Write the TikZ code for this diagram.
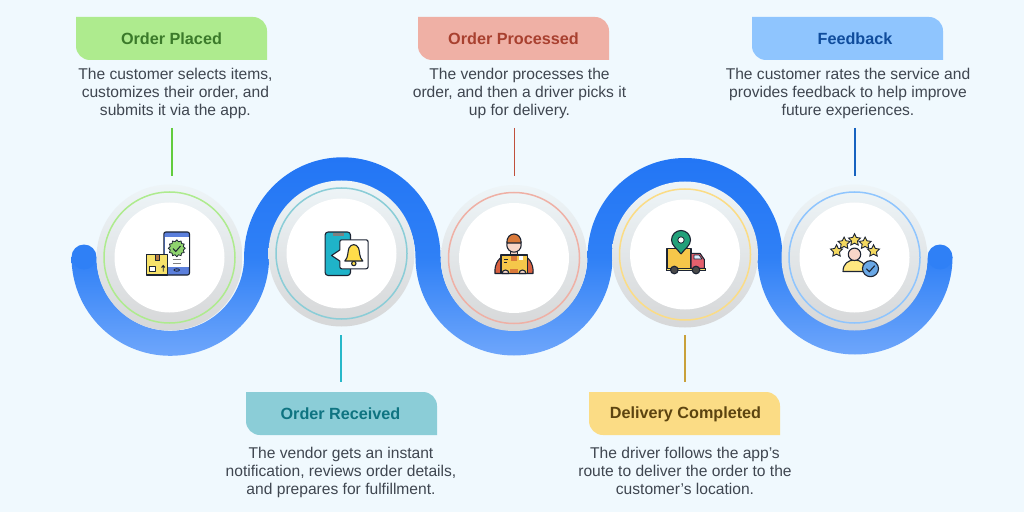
\documentclass[tikz,border=0pt]{standalone}
\usepackage{fontspec}
\setmainfont{Liberation Sans}
\usetikzlibrary{shapes.geometric}
\definecolor{pagebg}{HTML}{F0F9FE}
\definecolor{ribbontop}{HTML}{2376F5}
\definecolor{ribbonmid}{HTML}{2F80F6}
\definecolor{ribbonlow}{HTML}{6EA6FB}
\definecolor{disctop}{HTML}{EEF5F8}
\definecolor{discbot}{HTML}{D6D7D8}
\definecolor{bodytext}{HTML}{3F4650}
\definecolor{ink}{HTML}{1C2433}
\definecolor{placedfill}{HTML}{AEEB8E}
\definecolor{placedtext}{HTML}{3B7A2A}
\definecolor{greenstem}{HTML}{62CC3E}
\definecolor{receivedfill}{HTML}{8BCDD7}
\definecolor{receivedtext}{HTML}{0F7481}
\definecolor{receivedstem}{HTML}{27B8C9}
\definecolor{processedfill}{HTML}{EFB0A5}
\definecolor{processedtext}{HTML}{A8402F}
\definecolor{processedstem}{HTML}{C0503C}
\definecolor{completedfill}{HTML}{FBDC85}
\definecolor{completedtext}{HTML}{5C4410}
\definecolor{completedstem}{HTML}{C9A13A}
\definecolor{feedbackfill}{HTML}{8FC5FE}
\definecolor{feedbacktext}{HTML}{0F4C9C}
\definecolor{feedbackstem}{HTML}{1763C0}
\definecolor{phoneblue}{HTML}{5B7FDC}
\definecolor{phoneteal}{HTML}{1FB3C9}
\definecolor{badgegreen}{HTML}{8FD46E}
\definecolor{boxyellow}{HTML}{F6E26B}
\definecolor{boxtape}{HTML}{B5793F}
\definecolor{bellyellow}{HTML}{FFDD4A}
\definecolor{cargoyellow}{HTML}{F5C74A}
\definecolor{courierred}{HTML}{D9603F}
\definecolor{capbrown}{HTML}{D9793A}
\definecolor{skinpink}{HTML}{F8D6C8}
\definecolor{cabred}{HTML}{E4606D}
\definecolor{pingreen}{HTML}{22A07A}
\definecolor{wheelgray}{HTML}{4A4A4A}
\definecolor{stargold}{HTML}{F3D85F}
\definecolor{checkblue}{HTML}{6AA8E6}
\tikzset{
  disc/.style={circle, inner sep=0pt, minimum size=146pt, top color=disctop, bottom color=discbot},
  ringline/.style={circle, inner sep=0pt, minimum size=131pt, draw=#1, line width=1.5pt},
  core/.style={circle, inner sep=0pt, minimum size=110pt, fill=white},
  tabtitle/.style={font=\fontsize{16.2}{19}\selectfont\bfseries, text=#1},
  desc/.style={font=\fontsize{15.6}{18}\selectfont, text=bodytext, align=center, inner sep=0pt, anchor=base},
  stem/.style={draw=#1, line width=1.7pt},
  icon/.style={draw=ink, line width=1.1pt, line join=round},
  rating/.style={star, star points=5, star point ratio=2, inner sep=0pt, minimum size=12.5pt, draw=ink, line width=0.9pt, fill=stargold}
}
\newcommand{\steptab}[3]{
  \fill[#3, shift={(#1,#2)}] (0,43) -- (177,43) arc[start angle=90, end angle=0, radius=14] -- (191,0) -- (14,0) arc[start angle=270, end angle=180, radius=14] -- cycle;
}
\begin{document}
\begin{tikzpicture}[x=1pt, y=1pt]
  \useasboundingbox (0,0) rectangle (1024,512);
  \fill[pagebg] (0,0) rectangle (1024,512);

  \foreach \cx/\rr in {342.3/85.7, 685/85} {
    \shade[top color=ribbontop, bottom color=ribbonmid] (\cx-\rr-12.5,254) -- (\cx-\rr-12.5,255) arc[start angle=180, end angle=0, x radius=\rr+12.5, y radius=\rr+14] -- (\cx+\rr+12.5,254) -- (\cx+\rr-12.5,254) -- (\cx+\rr-12.5,255) arc[start angle=0, end angle=180, radius=\rr-12.5] -- (\cx-\rr+12.5,254) -- cycle;
  }
  \foreach \cx/\rr in {170.3/86.3, 514/86, 855/85} {
    \shade[top color=ribbonmid, bottom color=ribbonlow] (\cx-\rr-12.5,255) arc[start angle=180, end angle=360, radius=\rr+12.5] -- ++(-25,0) arc[start angle=360, end angle=180, radius=\rr-12.5] -- cycle;
  }
  \fill[ribbonmid] (84,255) circle (12.5);
  \fill[ribbonmid] (940,255) circle (12.5);

  \node[disc] (placed) at (169.5,254.5) {};
  \node[ringline=placedfill] (placedring) at (placed) {};
  \node[core] (placedcore) at (placed) {};
  \node[disc] (received) at (341.5,258.5) {};
  \node[ringline=receivedfill] (receivedring) at (received) {};
  \node[core] (receivedcore) at (received) {};
  \node[disc] (processed) at (514,254) {};
  \node[ringline=processedfill] (processedring) at (processed) {};
  \node[core] (processedcore) at (processed) {};
  \node[disc] (completed) at (685,257.5) {};
  \node[ringline=completedfill] (completedring) at (completed) {};
  \node[core] (completedcore) at (completed) {};
  \node[disc] (feedback) at (854.5,254.5) {};
  \node[ringline=feedbackfill] (feedbackring) at (feedback) {};
  \node[core] (feedbackcore) at (feedback) {};

  \steptab{76}{452}{placedfill}
  \steptab{246}{77}{receivedfill}
  \steptab{418}{452}{processedfill}
  \steptab{589}{77}{completedfill}
  \steptab{752}{452}{feedbackfill}

  \node[tabtitle=placedtext] (placedtitle) at (171.5,473) {Order Placed};
  \node[tabtitle=receivedtext] (receivedtitle) at (340.5,98) {Order Received};
  \node[tabtitle=processedtext] (processedtitle) at (513.5,473) {Order Processed};
  \node[tabtitle=completedtext] (completedtitle) at (685.5,98) {Delivery Completed};
  \node[tabtitle=feedbacktext] (feedbacktitle) at (855,473) {Feedback};

  \node[desc] (placeddesc) at (175.4,396) {The customer selects items,\\customizes their order, and\\submits it via the app.};
  \node[desc] (receiveddesc) at (341,18) {The vendor gets an instant\\notification, reviews order details,\\and prepares for fulfillment.};
  \node[desc] (processeddesc) at (519.5,396) {The vendor processes the\\order, and then a driver picks it\\up for delivery.};
  \node[desc] (completeddesc) at (685,18) {The driver follows the app’s\\route to deliver the order to the\\customer’s location.};
  \node[desc] (feedbackdesc) at (848,396) {The customer rates the service and\\provides feedback to help improve\\future experiences.};

  \coordinate (placedup) at (172,384);
  \coordinate (placedlow) at (172,336);
  \coordinate (receivedup) at (341,177);
  \coordinate (receivedlow) at (341,130);
  \coordinate (processedup) at (514.5,384);
  \coordinate (processedlow) at (514.5,336);
  \coordinate (completedup) at (685,177);
  \coordinate (completedlow) at (685,130);
  \coordinate (feedbackup) at (855,384);
  \coordinate (feedbacklow) at (855,336);
  \draw[stem=greenstem] (placedup) -- (placedlow);
  \draw[stem=receivedstem] (receivedup) -- (receivedlow);
  \draw[stem=processedstem] (processedup) -- (processedlow);
  \draw[stem=completedstem] (completedup) -- (completedlow);
  \draw[stem=feedbackstem] (feedbackup) -- (feedbacklow);

  \begin{scope}[shift={(placed)}]
    \draw[icon, fill=phoneblue, rounded corners=2] (-5.7,-17.5) rectangle (20,25.5);
    \fill[white] (-5,-9) rectangle (19.3,20.5);
    \draw[icon, fill=badgegreen, line width=0.8pt, shift={(7.3,9.2)}] plot[smooth cycle, samples=24, domain=0:345] (\x:{7.6+0.9*cos(12*\x)});
    \draw[ink, line width=1pt] (3.5,9) -- (6.3,6) -- (11,11.5);
    \draw[gray, line width=0.9pt] (3.3,-2) -- (11.7,-2) (3.3,-6) -- (11.7,-6);
    \draw[ink, line width=0.8pt] (7.3,-12.5) ellipse (2.8 and 1.2);
    \draw[icon, fill=boxyellow] (-23,-17.5) rectangle (-1.7,3.2);
    \draw[icon, fill=boxtape, line width=0.7pt] (-14,-3) rectangle (-9.7,3.2);
    \draw[icon, fill=white, line width=0.8pt] (-19.7,-14.2) rectangle (-13.7,-8.5);
    \draw[ink, line width=0.9pt] (-6.3,-14) -- (-6.3,-8) (-8,-10) -- (-6.3,-8) -- (-4.6,-10);
  \end{scope}

  \begin{scope}[shift={(received)}]
    \draw[icon, fill=phoneteal, rounded corners=3] (-16.4,-22) rectangle (9,21.5);
    \fill[gray] (-9,18) rectangle (2,21);
    \draw[icon, fill=white] (-10,-2) -- (-1.7,3.5) -- (-1.7,11.7) arc[start angle=180, end angle=90, radius=2] -- (24.6,13.7) arc[start angle=90, end angle=0, radius=2] -- (26.6,-13.3) arc[start angle=0, end angle=-90, radius=2] -- (0.3,-15.3) arc[start angle=270, end angle=180, radius=2] -- (-1.7,-7.5) -- cycle;
    \draw[icon, fill=bellyellow] (12.3,-10) circle (2.2);
    \draw[icon, fill=bellyellow] (3.3,-7.5) .. controls (7,-4) and (6,2) .. (7.5,5.5) .. controls (9.5,10) and (15,10) .. (17,5.5) .. controls (18.5,2) and (17.5,-4) .. (21.3,-7.5) -- cycle;
  \end{scope}

  \begin{scope}[shift={(processed)}]
    \draw[icon, fill=courierred] (-19,-15.5) .. controls (-20,-5) and (-14,1.5) .. (-8,3) -- (8,3) .. controls (14,1.5) and (20,-5) .. (19,-15.5) -- cycle;
    \draw[icon, fill=skinpink] (-3.5,7.5) rectangle (3.5,2);
    \draw[icon, fill=skinpink] (0,13) circle (7.2);
    \draw[icon, fill=capbrown] (-7.2,15) .. controls (-7.5,27) and (7.5,27) .. (7.2,15) -- cycle;
    \draw[icon, fill=cargoyellow] (-13,-15.5) rectangle (13.3,3);
    \fill[capbrown] (-3.5,-3) rectangle (3,2.3);
    \fill[white] (5,-2) rectangle (9,2);
    \draw[ink, line width=0.7pt] (-10,-1) -- (-6,-1) (-10,-4) -- (-7,-4);
    \fill[capbrown] (-4,-15) rectangle (4,-11);
    \draw[icon, fill=skinpink] (-12,-15.5) arc[start angle=180, end angle=0, radius=3.5] -- cycle;
    \draw[icon, fill=skinpink] (5,-15.5) arc[start angle=180, end angle=0, radius=3.5] -- cycle;
  \end{scope}

  \begin{scope}[shift={(completed)}]
    \draw[icon, fill=cargoyellow] (-18,-14) rectangle (6,6);
    \draw[icon, fill=cabred] (6,-14) -- (6,1.2) -- (15,1.2) -- (19.3,-5) -- (19.3,-14) -- cycle;
    \draw[icon, fill=feedbackfill!30!white, line width=0.7pt] (9,-4.5) -- (9,-0.5) -- (14,-0.5) -- (17,-4.5) -- cycle;
    \draw[ink, fill=boxyellow, line width=0.7pt] (-19,-16) rectangle (20,-13.5);
    \draw[icon, fill=wheelgray] (-10.7,-15.5) circle (3.8);
    \draw[icon, fill=wheelgray] (11,-15.5) circle (3.8);
    \draw[icon, fill=pingreen] (-4,0.5) .. controls (-8,6) and (-13.5,9) .. (-13.5,14.5) arc[start angle=180, end angle=0, radius=9.5] .. controls (5.5,9) and (0,6) .. (-4,0.5);
    \draw[icon, fill=white, line width=0.8pt] (-4,14.5) circle (3.2);
  \end{scope}

  \begin{scope}[shift={(feedback)}]
    \foreach \i/\a/\b in {1/-18/6.5, 2/-10.4/14.2, 3/0/17.5, 4/10.6/14.2, 5/19/6.5} {
      \node[rating] (star\i) at (\a,\b) {};
    }
    \draw[icon, fill=bellyellow!70!white] (-11.5,-14) .. controls (-11.5,-6) and (-6,-2.5) .. (0,-2.5) .. controls (6,-2.5) and (11.5,-6) .. (11.5,-14) -- cycle;
    \draw[icon, fill=skinpink] (0,3.2) circle (6.2);
    \draw[icon, fill=checkblue] (16,-11.2) circle (8);
    \draw[ink, line width=1.1pt] (11.8,-11.2) -- (14.8,-14.2) -- (20.2,-8.2);
  \end{scope}
\end{tikzpicture}
\end{document}
